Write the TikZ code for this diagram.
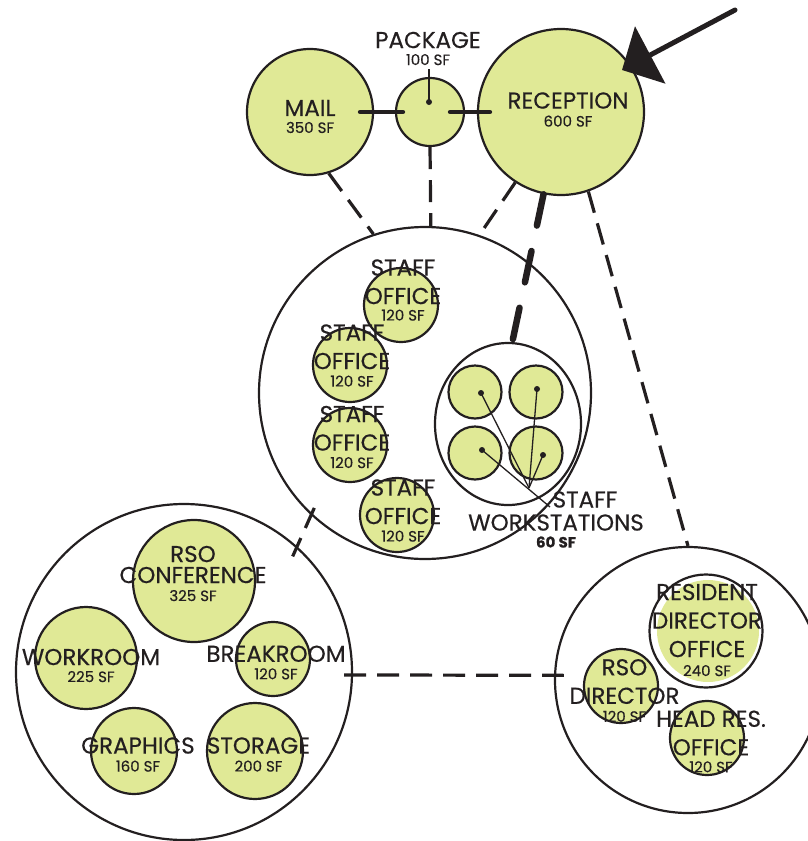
\documentclass[tikz,border=0pt]{standalone}
\usepackage{fontspec}
\setmainfont{Poppins}[FakeBold=0.4]
\usetikzlibrary{arrows.meta, shapes.geometric}
\definecolor{ink}{RGB}{35,31,32}
\definecolor{roomfill}{RGB}{224,233,150}
\newcommand{\sqf}[1]{{\fontsize{15}{15}\selectfont #1}}

\begin{document}
\begin{tikzpicture}[x=1pt, y=-1pt,
    room/.style={circle, draw=ink, fill=roomfill, line width=2.2pt, inner sep=0pt, minimum size=#1},
    zone/.style={circle, draw=ink, line width=2.2pt, inner sep=0pt, minimum size=#1},
    lbl/.style={align=center, inner sep=0pt, text=ink, font=\fontsize{23}{28.5}\selectfont},
    dashline/.style={draw=ink, line width=3.2pt, dash pattern=on 22pt off 11pt},
    link/.style={draw=ink, line width=4.5pt, line cap=round},
    leader/.style={draw=ink, line width=1.3pt}]
  \useasboundingbox (0,0) rectangle (808,841);

  % zones
  \node[zone=332pt] (staff) at (425,393) {};
  \node[zone=336pt] (bl) at (184,672) {};
  \node[zone=266pt] (br) at (688,680) {};
  \node[ellipse, draw=ink, line width=2.2pt, inner sep=0pt, minimum width=146pt, minimum height=162pt] (ws) at (508,424) {};

  % top rooms
  \node[room=126pt] (mail) at (310,112) {};
  \node[room=68pt] (pkg) at (430,112) {};
  \node[room=166pt] (rec) at (561,112) {};

  % staff offices and workstations
  \node[room=74pt] (off1) at (401,305) {};
  \node[room=74pt] (off2) at (350,365) {};
  \node[room=74pt] (off3) at (350,445) {};
  \node[room=74pt] (off4) at (397,515) {};
  \node[room=53pt] (wsa) at (475,392) {};
  \node[room=53pt] (wsb) at (536,392) {};
  \node[room=53pt] (wsc) at (475,453) {};
  \node[room=53pt] (wsd) at (536,453) {};

  % support rooms
  \node[room=122pt] (conf) at (194,581) {};
  \node[room=102pt] (work) at (86,658) {};
  \node[room=74pt] (brk) at (273,659) {};
  \node[room=86pt] (graph) at (134,751) {};
  \node[room=96pt] (stor) at (255,751) {};

  % director rooms
  \node[circle, fill=roomfill, inner sep=0pt, minimum size=102pt] (resfill) at (708,631) {};
  \node[circle, draw=ink, line width=2.2pt, inner sep=0pt, minimum size=113pt] (res) at (706,631) {};
  \node[room=74pt] (rsodir) at (621,686) {};
  \node[room=74pt] (headres) at (707,738) {};

  % connectors
  \draw[link] ([xshift=-14pt]mail.east) -- ([xshift=8pt]pkg.west);
  \draw[link] ([xshift=-15pt]pkg.east) -- ([xshift=13pt]rec.west);
  \draw[dashline] (mail.-73) -- (staff.108);
  \draw[dashline] (pkg.south) -- (staff.88);
  \draw[dashline] (rec.237) -- (staff.71);
  \draw[dashline, line width=6.5pt, line cap=round, dash pattern=on 32pt off 26pt] (rec.258) -- (ws.87);
  \draw[dashline] (rec.-71) -- (br.90);
  \draw[dashline, shorten <=-8pt, shorten >=-11pt] (staff.-133) -- (bl.48);
  \draw[dashline, shorten <=-9pt, shorten >=-10pt] (bl.-1) -- (br.178);

  % entry arrow
  \coordinate (entry) at (735,10);
  \coordinate (door) at (622,70);
  \draw[draw=ink, fill=ink, line width=5pt, line cap=round, -{Triangle[length=32pt, width=64pt]}] (entry) -- (door);

  % pointers
  \coordinate (pkgdot) at (429,102);
  \coordinate (pkgtag) at (429,69);
  \draw[leader] (pkgtag) -- (pkgdot);
  \fill[ink] (pkgdot) circle (3pt);
  \coordinate (dota) at (481,393);
  \coordinate (dotb) at (537,389);
  \coordinate (dotc) at (482,450);
  \coordinate (dotd) at (543,455);
  \coordinate (wsfoot) at (529,488);
  \coordinate (wsfoot2) at (550,507);
  \draw[leader] (dota) -- (wsfoot);
  \draw[leader] (dotb) -- (wsfoot);
  \draw[leader] (dotd) -- (wsfoot);
  \draw[leader] (dotc) -- (wsfoot2);
  \foreach \d in {dota, dotb, dotc, dotd}
    \fill[ink] (\d) circle (3pt);

  % labels
  \node[lbl] (pkgtxt) at (428,48.5) {PACKAGE\\[-11.5pt]\sqf{100 SF}};
  \node[lbl] (mailtxt) at (310,116.5) {MAIL\\[-11.5pt]\sqf{350 SF}};
  \node[lbl] (rectxt) at (568,109.5) {RECEPTION\\[-10.5pt]\sqf{600 SF}};
  \node[lbl] (off1txt) at (403,290) {STAFF\\OFFICE\\[-12pt]\sqf{120 SF}};
  \node[lbl] (off2txt) at (352,355.5) {STAFF\\OFFICE\\[-11pt]\sqf{120 SF}};
  \node[lbl] (off3txt) at (352,437) {STAFF\\OFFICE\\[-11pt]\sqf{120 SF}};
  \node[lbl] (off4txt) at (403,510.5) {STAFF\\OFFICE\\[-11pt]\sqf{120 SF}};
  \node[lbl] (wstxt1) at (585,499.5) {STAFF};
  \node[lbl] (wstxt2) at (556,531) {WORKSTATIONS\\[-11.5pt]\sqf{\bfseries 60 SF}};
  \node[lbl] (conftxt) at (193,573.5) {RSO\\[-7.5pt]CONFERENCE\\[-10.5pt]\sqf{325 SF}};
  \node[lbl] (worktxt) at (91,665.5) {WORKROOM\\[-11.5pt]\sqf{225 SF}};
  \node[lbl] (brktxt) at (276,662.5) {BREAKROOM\\[-11pt]\sqf{120 SF}};
  \node[lbl] (graphtxt) at (138,754.5) {GRAPHICS\\[-10.5pt]\sqf{160 SF}};
  \node[lbl] (stortxt) at (258.5,754.5) {STORAGE\\[-10.5pt]\sqf{200 SF}};
  \node[lbl] (restxt) at (707,630) {RESIDENT\\DIRECTOR\\OFFICE\\[-9.5pt]\sqf{240 SF}};
  \node[lbl] (rsodirtxt) at (624.5,690.5) {RSO\\DIRECTOR\\[-10.5pt]\sqf{120 SF}};
  \node[lbl] (headrestxt) at (711,741.5) {HEAD RES.\\OFFICE\\[-11.5pt]\sqf{120 SF}};
\end{tikzpicture}
\end{document}
